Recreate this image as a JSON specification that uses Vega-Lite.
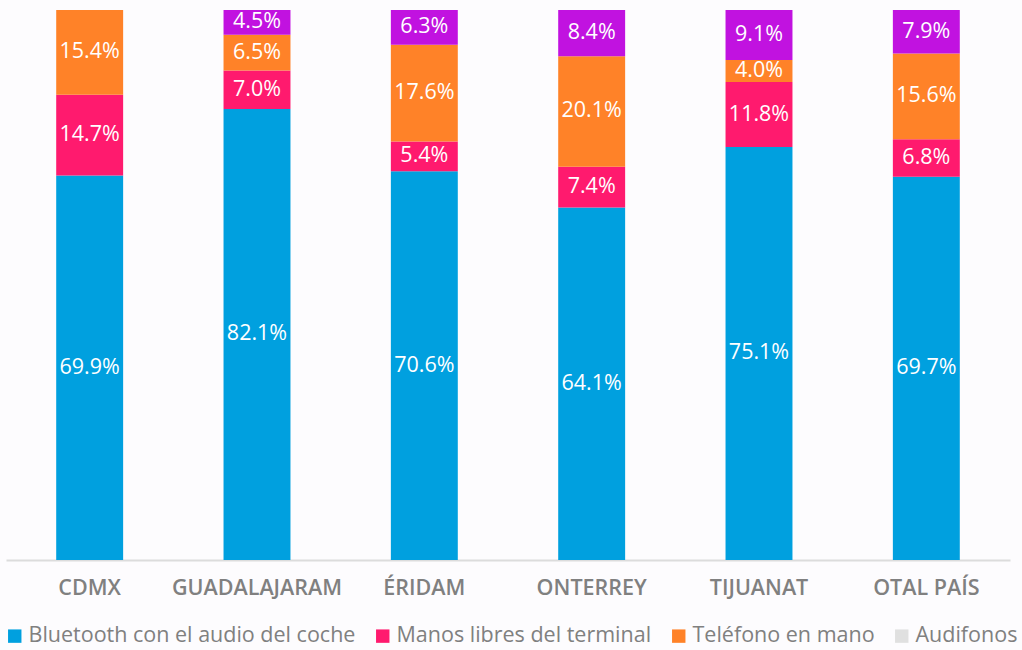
{
  "$schema": "https://vega.github.io/schema/vega-lite/v6.json",
  "width": 1004,
  "height": 550,
  "autosize": {"type": "none"},
  "padding": {"left": 6, "top": 10, "right": 12, "bottom": 90},
  "background": "#fdfcfe",
  "config": {"view": {"stroke": null}, "font": "Open Sans"},
  "data": {
    "values": [
      {"ciudad": "CDMX", "serie": "Bluetooth con el audio del coche", "n": 1, "v": 0.699},
      {"ciudad": "CDMX", "serie": "Manos libres del terminal", "n": 2, "v": 0.147},
      {"ciudad": "CDMX", "serie": "Teléfono en mano", "n": 3, "v": 0.154},
      {"ciudad": "GUADALAJARAM", "serie": "Bluetooth con el audio del coche", "n": 1, "v": 0.821},
      {"ciudad": "GUADALAJARAM", "serie": "Manos libres del terminal", "n": 2, "v": 0.070},
      {"ciudad": "GUADALAJARAM", "serie": "Teléfono en mano", "n": 3, "v": 0.065},
      {"ciudad": "GUADALAJARAM", "serie": "Audifonos", "n": 4, "v": 0.045},
      {"ciudad": "ÉRIDAM", "serie": "Bluetooth con el audio del coche", "n": 1, "v": 0.706},
      {"ciudad": "ÉRIDAM", "serie": "Manos libres del terminal", "n": 2, "v": 0.054},
      {"ciudad": "ÉRIDAM", "serie": "Teléfono en mano", "n": 3, "v": 0.176},
      {"ciudad": "ÉRIDAM", "serie": "Audifonos", "n": 4, "v": 0.063},
      {"ciudad": "ONTERREY", "serie": "Bluetooth con el audio del coche", "n": 1, "v": 0.641},
      {"ciudad": "ONTERREY", "serie": "Manos libres del terminal", "n": 2, "v": 0.074},
      {"ciudad": "ONTERREY", "serie": "Teléfono en mano", "n": 3, "v": 0.201},
      {"ciudad": "ONTERREY", "serie": "Audifonos", "n": 4, "v": 0.084},
      {"ciudad": "TIJUANAT", "serie": "Bluetooth con el audio del coche", "n": 1, "v": 0.751},
      {"ciudad": "TIJUANAT", "serie": "Manos libres del terminal", "n": 2, "v": 0.118},
      {"ciudad": "TIJUANAT", "serie": "Teléfono en mano", "n": 3, "v": 0.040},
      {"ciudad": "TIJUANAT", "serie": "Audifonos", "n": 4, "v": 0.091},
      {"ciudad": "OTAL PAÍS", "serie": "Bluetooth con el audio del coche", "n": 1, "v": 0.697},
      {"ciudad": "OTAL PAÍS", "serie": "Manos libres del terminal", "n": 2, "v": 0.068},
      {"ciudad": "OTAL PAÍS", "serie": "Teléfono en mano", "n": 3, "v": 0.156},
      {"ciudad": "OTAL PAÍS", "serie": "Audifonos", "n": 4, "v": 0.079}
    ]
  },
  "encoding": {
    "x": {
      "field": "ciudad",
      "type": "nominal",
      "sort": null,
      "scale": {"paddingInner": 0.6, "paddingOuter": 0.3},
      "axis": {
        "title": null,
        "labelAngle": 0,
        "labelFontSize": 21.5,
        "labelFontWeight": 600,
        "labelColor": "#808080",
        "labelPadding": 17,
        "ticks": false,
        "domainColor": "#dcdcdc",
        "domainWidth": 2
      }
    },
    "y": {
      "field": "v",
      "type": "quantitative",
      "stack": "normalize",
      "axis": null
    },
    "order": {"field": "n", "type": "quantitative"}
  },
  "layer": [
    {
      "mark": {"type": "bar"},
      "encoding": {
        "color": {
          "condition": {"test": "datum.serie === 'Audifonos'", "value": "#c112e0"},
          "field": "serie",
          "type": "nominal",
          "scale": {
            "domain": ["Bluetooth con el audio del coche", "Manos libres del terminal", "Teléfono en mano", "Audifonos"],
            "range": ["#00a0df", "#ff1a6e", "#ff8228", "#e0e0e0"]
          },
          "legend": {
            "title": null,
            "orient": "none",
            "direction": "horizontal",
            "legendX": -2,
            "legendY": 615,
            "padding": 0,
            "symbolType": "square",
            "symbolSize": 180,
            "symbolStrokeWidth": 0,
            "labelFontSize": 21.5,
            "labelColor": "#808080",
            "labelOffset": 3,
            "labelLimit": 0,
            "columnPadding": 16
          }
        }
      }
    },
    {
      "mark": {"type": "text", "color": "white", "fontSize": 21.5, "baseline": "middle"},
      "encoding": {
        "y": {"field": "v", "type": "quantitative", "stack": "normalize", "bandPosition": 0.5},
        "text": {"field": "v", "type": "quantitative", "format": ".1%"},
        "detail": {"field": "serie"}
      }
    }
  ]
}
